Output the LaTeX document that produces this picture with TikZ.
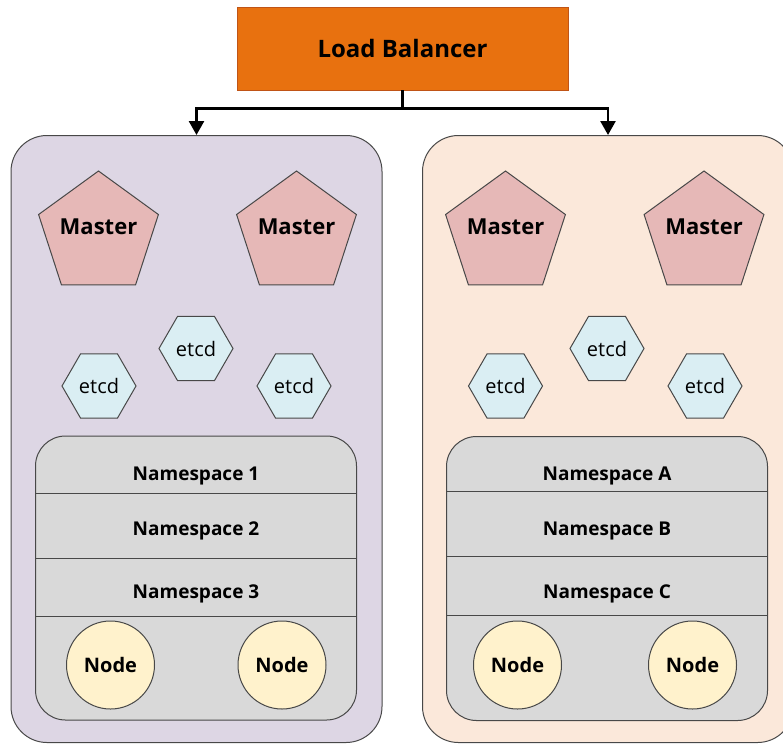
\documentclass[tikz,border=0pt]{standalone}
\usepackage{fontspec}
\setmainfont{Open Sans}
\usetikzlibrary{shapes.geometric,arrows.meta}

\definecolor{lbfill}{RGB}{232,113,15}
\definecolor{lbedge}{RGB}{192,84,22}
\definecolor{clusterA}{RGB}{221,214,228}
\definecolor{clusterB}{RGB}{251,232,218}
\definecolor{nsgray}{RGB}{217,217,217}
\definecolor{masterfill}{RGB}{230,184,183}
\definecolor{etcdfill}{RGB}{218,238,243}
\definecolor{workerfill}{RGB}{255,242,204}
\definecolor{edgegray}{RGB}{72,72,72}

\tikzset{
  lbbox/.style={draw=lbedge, fill=lbfill, line width=0.8pt,
    minimum width=331pt, minimum height=83pt, inner sep=0pt,
    font=\fontsize{24}{28}\selectfont\bfseries},
  cluster/.style={draw=edgegray, line width=1pt, rounded corners=36pt,
    minimum width=371pt, minimum height=607pt, inner sep=0pt},
  master/.style={regular polygon, regular polygon sides=5, draw=edgegray,
    fill=masterfill, line width=1pt, minimum size=126pt, inner sep=0pt},
  mastertext/.style={font=\fontsize{22}{26}\selectfont\bfseries},
  etcd/.style={regular polygon, regular polygon sides=6, draw=edgegray,
    fill=etcdfill, line width=1pt, minimum size=74pt, inner sep=0pt,
    font=\fontsize{20}{24}\selectfont},
  nsbox/.style={draw=edgegray, fill=nsgray, line width=1pt, rounded corners=30pt,
    minimum width=321pt, minimum height=284pt, inner sep=0pt},
  nsline/.style={draw=edgegray, line width=1pt},
  nslabel/.style={font=\fontsize{19}{23}\selectfont\bfseries},
  worker/.style={circle, draw=edgegray, fill=workerfill, line width=1pt,
    minimum size=88pt, inner sep=0pt, font=\fontsize{20}{24}\selectfont\bfseries},
  feed/.style={draw=black, line width=2.6pt,
    -{Triangle[width=15pt,length=14pt]}},
}

\begin{document}
\begin{tikzpicture}[x=1pt, y=-1pt]
  \useasboundingbox (0,0) rectangle (783,744);
  \clip (0,0) rectangle (783,744);

  % load balancer on top
  \node[lbbox] (lb) at (402.5,48.5) {Load Balancer};

  % the two clusters
  \node[cluster, fill=clusterA] (lc) at (196.5,439) {};
  \node[cluster, fill=clusterB] (rc) at (608,439) {};

  % split feed from the balancer down to both clusters
  \draw[feed] (lb.south) -- ++(0,18) -| (lc.north);
  \draw[feed] (lb.south) -- ++(0,18) -| (rc.north);

  % masters
  \node[master, label={[mastertext, yshift=7pt]center:Master}] (lm1) at (98.5,234) {};
  \node[master, label={[mastertext, yshift=7pt]center:Master}] (lm2) at (296.5,234) {};
  \node[master, label={[mastertext, yshift=7pt]center:Master}] (rm1) at (505.5,234) {};
  \node[master, label={[mastertext, yshift=7pt]center:Master}] (rm2) at (704,234) {};

  % etcd members
  \node[etcd] (le1) at (99,386) {etcd};
  \node[etcd] (le2) at (196,348.5) {etcd};
  \node[etcd] (le3) at (294,386) {etcd};
  \node[etcd] (re1) at (505.5,386) {etcd};
  \node[etcd] (re2) at (607,348.5) {etcd};
  \node[etcd] (re3) at (705,386) {etcd};

  % namespaces, left cluster
  \node[nsbox] (lns) at (196,578) {};
  \draw[nsline] (lns.west |- 0,493) -- (lns.east |- 0,493);
  \draw[nsline] (lns.west |- 0,558) -- (lns.east |- 0,558);
  \draw[nsline] (lns.west |- 0,616) -- (lns.east |- 0,616);
  \node[nslabel] (lns1) at (196,476) {Namespace 1};
  \node[nslabel] (lns2) at (196,531) {Namespace 2};
  \node[nslabel] (lns3) at (196,594) {Namespace 3};
  \node[worker] (lw1) at (110.5,665) {Node};
  \node[worker] (lw2) at (282,665) {Node};

  % namespaces, right cluster
  \node[nsbox] (rns) at (607,578.5) {};
  \draw[nsline] (rns.west |- 0,491) -- (rns.east |- 0,491);
  \draw[nsline] (rns.west |- 0,556) -- (rns.east |- 0,556);
  \draw[nsline] (rns.west |- 0,615) -- (rns.east |- 0,615);
  \node[nslabel] (rnsA) at (607,476) {Namespace A};
  \node[nslabel] (rnsB) at (607,531) {Namespace B};
  \node[nslabel] (rnsC) at (607,594) {Namespace C};
  \node[worker] (rw1) at (517.5,665) {Node};
  \node[worker] (rw2) at (692.5,665) {Node};
\end{tikzpicture}
\end{document}
